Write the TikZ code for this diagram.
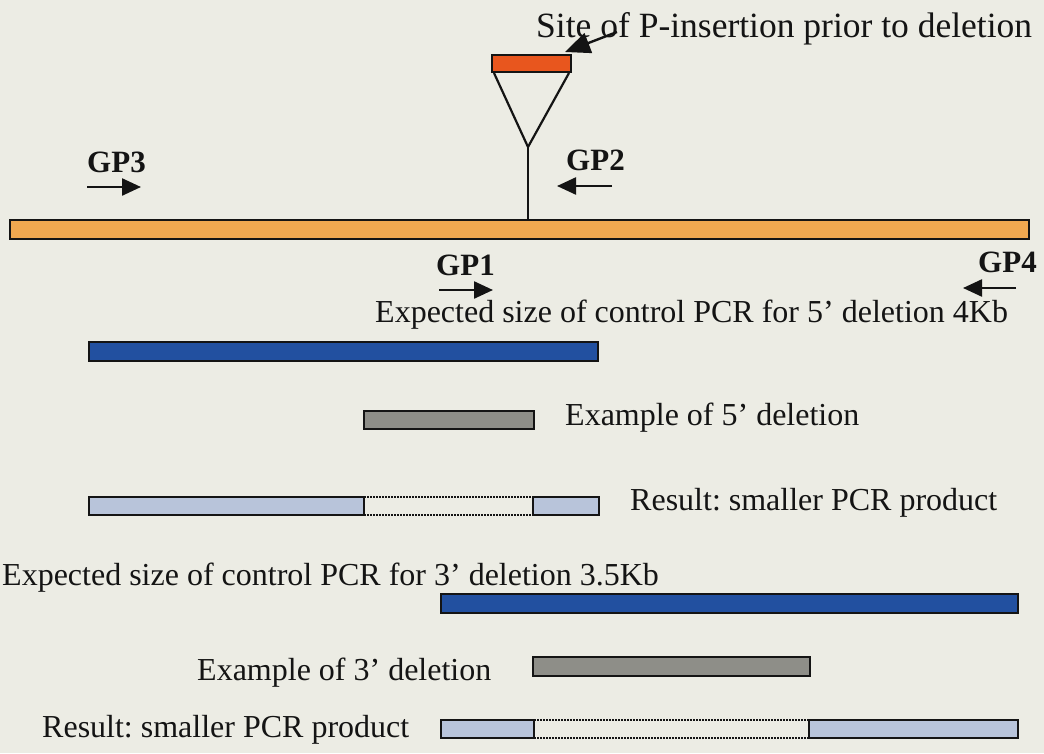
\documentclass[tikz,border=0pt]{standalone}
\usepackage{fontspec}
\setmainfont{Liberation Serif}
\usetikzlibrary{arrows.meta}
\definecolor{paper}{RGB}{236,236,228}
\definecolor{chrom}{RGB}{240,168,80}
\definecolor{pelem}{RGB}{232,86,30}
\definecolor{ctrlblue}{RGB}{34,80,160}
\definecolor{delgray}{RGB}{142,142,136}
\definecolor{prodblue}{RGB}{184,196,218}
\definecolor{ink}{RGB}{20,20,20}
\frenchspacing
\begin{document}
\begin{tikzpicture}[x=1pt,y=-1pt,
  bar/.style={draw=ink, line width=2.2pt, inner sep=0pt, outer sep=0pt, anchor=north west},
  lbl/.style={inner sep=0pt, anchor=base west, text=ink, font=\fontsize{32}{38}\selectfont},
  gp/.style={inner sep=0pt, anchor=base west, text=ink, font=\fontsize{31}{36}\selectfont\bfseries},
  primer/.style={draw=ink, line width=2.4pt, -{Triangle[length=19pt,width=17pt]}},
  pointer/.style={draw=ink, line width=2.4pt, -{Triangle[length=25pt,width=21pt]}},
  gap/.style={draw=ink, line width=1.5pt, dash pattern=on 1.5pt off 1.5pt},
  stem/.style={draw=ink, line width=2.2pt}]
\fill[paper] (0,0) rectangle (1044,753);
\useasboundingbox (0,0) rectangle (1044,753);

% chromosome with the P-element insertion site
\node[bar, fill=chrom, minimum width=1019pt, minimum height=19pt] (chrom) at (10,220) {};
\node[bar, fill=pelem, minimum width=79pt, minimum height=17pt] (pel) at (492,55) {};
\coordinate (apex) at (528,147);
\draw[stem, line join=miter] (494,73) -- (apex) -- (569,73);
\draw[stem] (apex) -- (apex |- chrom.north);

\node[lbl, font=\fontsize{35.5}{42}\selectfont] (site) at (536,37) {Site of P-insertion prior to deletion};
\coordinate (sitetail) at (617,32);
\draw[pointer] (sitetail) -- ([xshift=-6pt,yshift=3pt]pel.north east);

% primers
\node[gp] (gp3) at (87,172) {GP3};
\coordinate (gp3a) at (87,187);  \coordinate (gp3b) at (141,187);
\draw[primer] (gp3a) -- (gp3b);
\node[gp] (gp2) at (566,170) {GP2};
\coordinate (gp2a) at (612,186); \coordinate (gp2b) at (557,186);
\draw[primer] (gp2a) -- (gp2b);
\node[gp] (gp1) at (436,275) {GP1};
\coordinate (gp1a) at (439,290); \coordinate (gp1b) at (493,290);
\draw[primer] (gp1a) -- (gp1b);
\node[gp] (gp4) at (978,272) {GP4};
\coordinate (gp4a) at (1016,288); \coordinate (gp4b) at (963,288);
\draw[primer] (gp4a) -- (gp4b);

% 5' deletion
\node[lbl] (ctrl5txt) at (375,322) {Expected size of control PCR for 5’ deletion 4Kb};
\node[bar, fill=ctrlblue, minimum width=509pt, minimum height=19pt] (ctrl5) at (89,342) {};
\node[bar, fill=delgray, minimum width=170pt, minimum height=18pt] (del5) at (364,411) {};
\node[lbl] (del5txt) at (565,425) {Example of 5’ deletion};
\node[bar, fill=prodblue, minimum width=275pt, minimum height=18pt] (res5l) at (89,497) {};
\node[bar, fill=prodblue, minimum width=66pt, minimum height=18pt] (res5r) at (533,497) {};
\draw[gap] (res5l.north east) -- (res5r.north west);
\draw[gap] (res5l.south east) -- (res5r.south west);
\node[lbl] (res5txt) at (630,510) {Result: smaller PCR product};

% 3' deletion
\node[lbl] (ctrl3txt) at (2,585) {Expected size of control PCR for 3’ deletion 3.5Kb};
\node[bar, fill=ctrlblue, minimum width=577pt, minimum height=19pt] (ctrl3) at (441,594) {};
\node[bar, fill=delgray, minimum width=277pt, minimum height=19pt] (del3) at (533,657) {};
\node[lbl] (del3txt) at (197,680) {Example of 3’ deletion};
\node[bar, fill=prodblue, minimum width=93pt, minimum height=18pt] (res3l) at (441,720) {};
\node[bar, fill=prodblue, minimum width=209pt, minimum height=18pt] (res3r) at (809,720) {};
\draw[gap] (res3l.north east) -- (res3r.north west);
\draw[gap] (res3l.south east) -- (res3r.south west);
\node[lbl] (res3txt) at (42,737) {Result: smaller PCR product};
\end{tikzpicture}
\end{document}
